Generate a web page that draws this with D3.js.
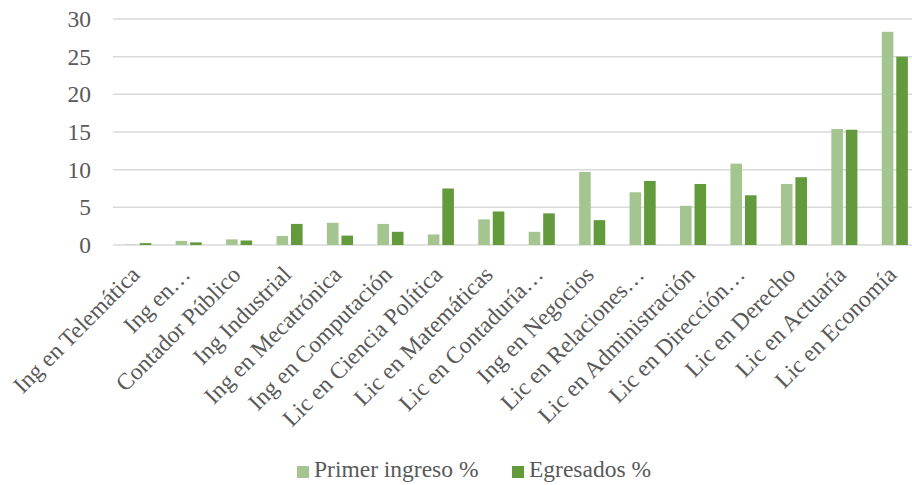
<!DOCTYPE html>
<html>
<head>
<meta charset="utf-8">
<script src="https://cdn.jsdelivr.net/npm/d3@7"></script>
<style>
  body { margin: 0; background: #fff; }
  svg { display: block; }
</style>
</head>
<body>
<div id="chart"></div>
<script>
// categories as shown on the axis (long ones are cut off in the original)
var categories = [
    'Ing en Telemática', 'Ing en…', 'Contador Público', 'Ing Industrial',
    'Ing en Mecatrónica', 'Ing en Computación', 'Lic en Ciencia Política',
    'Lic en Matemáticas', 'Lic en Contaduría…', 'Ing en Negocios',
    'Lic en Relaciones…', 'Lic en Administración', 'Lic en Dirección…',
    'Lic en Derecho', 'Lic en Actuaría', 'Lic en Economía'
];
var seriesNames = ['Primer ingreso %', 'Egresados %'];
var primerIngreso = [0.05, 0.55, 0.75, 1.2, 2.95, 2.8, 1.4, 3.4, 1.75, 9.7, 7.0, 5.2, 10.8, 8.1, 15.4, 28.3];
var egresados = [0.25, 0.35, 0.6, 2.8, 1.25, 1.75, 7.5, 4.45, 4.2, 3.3, 8.5, 8.1, 6.6, 9.0, 15.3, 25.0];
var yTicks = [0, 5, 10, 15, 20, 25, 30];
var colors = ['#a5c590', '#639a3c'];

var width = 912, height = 485;
var margin = {top: 19, left: 113, right: -8, bottom: 240};
var fontFamily = 'Liberation Serif';
var fontSize = 23.5;
var textColor = '#595959';

var svg = d3.select('#chart').append('svg')
    .attr('width', width)
    .attr('height', height);

var x = d3.scaleBand()
    .domain(categories)
    .range([margin.left, width - margin.right]);

var xInner = d3.scaleBand()
    .domain([0, 1])
    .range([12.2, 38.3])
    .paddingInner(0.2);

var y = d3.scaleLinear()
    .domain([0, 30])
    .range([height - margin.bottom, margin.top]);

// gridlines
svg.append('g')
    .selectAll('line')
    .data(yTicks)
    .enter().append('line')
    .attr('x1', margin.left)
    .attr('x2', width)
    .attr('y1', function(d) { return y(d); })
    .attr('y2', function(d) { return y(d); })
    .attr('stroke', '#d9d9d9')
    .attr('stroke-width', 1.5);

// y axis labels
var yAxis = svg.append('g')
    .attr('transform', 'translate(' + (margin.left - 22) + ',0)')
    .call(d3.axisLeft(y).tickValues(yTicks).tickSize(0).tickPadding(0))
    .attr('font-family', fontFamily)
    .attr('font-size', fontSize);
yAxis.select('.domain').remove();
yAxis.selectAll('text')
    .attr('fill', textColor);

// bars
var rows = categories.map(function(c, i) {
    return {name: c, values: [primerIngreso[i], egresados[i]]};
});

var groups = svg.append('g')
    .selectAll('g')
    .data(rows)
    .enter().append('g')
    .attr('transform', function(d) { return 'translate(' + x(d.name) + ',0)'; });

groups.selectAll('rect')
    .data(function(d) { return d.values; })
    .enter().append('rect')
    .attr('x', function(d, i) { return xInner(i); })
    .attr('width', xInner.bandwidth())
    .attr('y', function(d) { return y(d); })
    .attr('height', function(d) { return y(0) - y(d); })
    .attr('fill', function(d, i) { return colors[i]; });

// x labels, rotated so they end under the tick
var xAxis = svg.append('g')
    .attr('transform', 'translate(0,' + y(0) + ')')
    .call(d3.axisBottom(x).tickSize(0).tickPadding(0))
    .attr('font-family', fontFamily)
    .attr('font-size', fontSize);
xAxis.select('.domain').remove();
xAxis.selectAll('text')
    .attr('fill', textColor)
    .attr('text-anchor', 'end')
    .attr('y', 0)
    .attr('dy', 0)
    .attr('transform', 'translate(3,31) rotate(-45)');

// legend
var legend = svg.append('g')
    .attr('transform', 'translate(297,477)')
    .attr('font-family', fontFamily)
    .attr('font-size', fontSize);
var legendX = [0, 215];
seriesNames.forEach(function(name, i) {
    var item = legend.append('g').attr('transform', 'translate(' + legendX[i] + ',0)');
    item.append('rect')
        .attr('x', 0)
        .attr('y', -11)
        .attr('width', 12)
        .attr('height', 12)
        .attr('fill', colors[i]);
    item.append('text')
        .attr('x', 17)
        .attr('y', 0)
        .attr('fill', textColor)
        .text(name);
});
</script>
</body>
</html>
